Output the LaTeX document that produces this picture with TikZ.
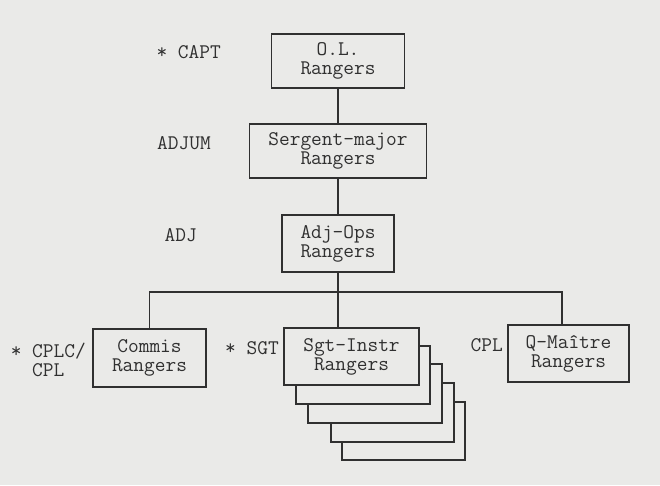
\documentclass[tikz,border=0pt]{standalone}
\usepackage{fontspec}
\usepackage{tikz}
\definecolor{paper}{RGB}{234,234,232}
\definecolor{ink}{RGB}{48,48,48}

\begin{document}
\begin{tikzpicture}[x=1pt, y=-1pt]
	\tikzstyle{every node} = [text=ink, font=\ttfamily\fontsize{20.8}{19}\selectfont]
	\tikzstyle{unit} = [draw=ink, line width=1.4pt, fill=paper, rectangle, align=center, inner sep=0pt]
	\tikzstyle{grade} = [anchor=east, inner sep=0pt, align=left]
	\tikzstyle{link} = [draw=ink, line width=1.4pt]
	\fill [paper] (0,0) rectangle (660,485);
	\useasboundingbox (0,0) rectangle (660,485);
	% command chain
	\node [unit, minimum width=133pt, minimum height=54pt] (OL) at (338, 61) {O.L.\\Rangers};
	\node [unit, minimum width=177pt, minimum height=54pt] (SM) at (338, 151) {Sergent-major\\Rangers};
	\node [unit, minimum width=112pt, minimum height=57pt] (AO) at (338, 243.5) {Adj-Ops\\Rangers};
	\node [unit, minimum width=113pt, minimum height=58pt] (CO) at (149.5, 358) {Commis\\Rangers};
	% stacked instructors, back to front
	\node [unit, minimum width=123pt, minimum height=58pt] (SI5) at (403.5, 431) {};
	\node [unit, minimum width=123pt, minimum height=59pt] (SI4) at (392.5, 412.5) {};
	\node [unit, minimum width=134pt, minimum height=59pt] (SI3) at (375, 393.5) {};
	\node [unit, minimum width=134pt, minimum height=58pt] (SI2) at (363, 375) {};
	\node [unit, minimum width=135pt, minimum height=57pt] (SI) at (351.5, 356.5) {Sgt-Instr\\Rangers};
	\node [unit, minimum width=121pt, minimum height=57pt] (QM) at (568.5, 353.5) {Q-Maître\\Rangers};
	% grades
	\node [grade] (CAPT) at (221, 52) {* CAPT};
	\node [grade] (ADJUM) at (211, 143) {ADJUM};
	\node [grade] (ADJ) at (197, 235) {ADJ};
	\node [grade] (CPLC) at (86, 359.5) {* CPLC/\\\phantom{* }CPL};
	\node [grade] (SGT) at (279, 348) {* SGT};
	\node [grade] (CPL) at (503, 345) {CPL};
	\coordinate (J) at (338, 292);
	\draw [link] (OL)--(SM);
	\draw [link] (SM)--(AO);
	\draw [link] (AO)--(J);
	\draw [link] (CO) |- (J);
	\draw [link] (J)--(J |- SI.north);
	\draw [link] (J) -| ([xshift=-6.5pt]QM.north);
\end{tikzpicture}
\end{document}
